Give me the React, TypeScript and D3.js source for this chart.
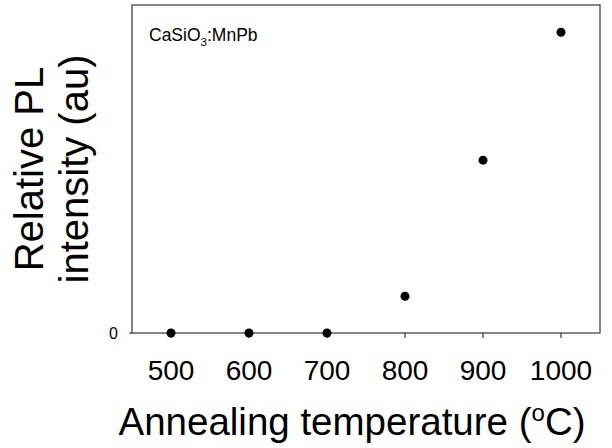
import React from 'react';
import { scaleLinear } from 'd3';

// annealing temperature (°C) and relative PL intensity (au, 0 = bottom, 1 = top of frame)
const temps = [500, 600, 700, 800, 900, 1000];
const intensity = [0, 0, 0, 0.112, 0.527, 0.917];
const xTicks = [500, 600, 700, 800, 900, 1000];
const yTicks = [0];

const W = 612;
const H = 448;
const margin = { left: 132, right: 12, top: 5, bottom: 115 };

export default function App() {
  const x = scaleLinear().domain([450, 1050]).range([margin.left, W - margin.right]);
  const y = scaleLinear().domain([0, 1]).range([H - margin.bottom, margin.top]);
  const x0 = margin.left, x1 = W - margin.right;
  const y0 = H - margin.bottom, y1 = margin.top;
  const font = 'Arial, "Liberation Sans", sans-serif';
  const midY = (y0 + y1) / 2;

  return (
    <svg width={W} height={H} style={{ position: 'absolute', left: 0, top: 0 }} fontFamily={font}>
      <rect width={W} height={H} fill="#fff" />
      {/* frame */}
      <rect x={x0} y={y1} width={x1 - x0} height={y0 - y1} fill="none" stroke="#444" strokeWidth={1.3} />

      {/* x axis ticks */}
      {xTicks.map(t => (
        <g key={t}>
          <line x1={x(t)} x2={x(t)} y1={y0} y2={y0 + 5} stroke="#444" strokeWidth={1.3} />
          <text x={x(t)} y={380} textAnchor="middle" fontSize={28} fill="#000">{t}</text>
        </g>
      ))}

      {/* y axis ticks */}
      {yTicks.map(t => (
        <g key={t}>
          <line x1={x0 - 3} x2={x0} y1={y(t)} y2={y(t)} stroke="#444" strokeWidth={1.3} />
          <text x={118} y={y(t) + 6} textAnchor="end" fontSize={16} fill="#000">{t}</text>
        </g>
      ))}

      {/* points */}
      {temps.map((t, i) => (
        <circle key={t} cx={x(t)} cy={y(intensity[i])} r={4.5} fill="#000" />
      ))}

      {/* annotation */}
      <text x={149} y={41} fontSize={17.5} fill="#000">
        CaSiO<tspan dy={5} fontSize={11.5}>3</tspan><tspan dy={-5}>:MnPb</tspan>
      </text>

      {/* axis titles */}
      <text x={352} y={435} textAnchor="middle" fontSize={38.5} fill="#000">
        Annealing temperature (<tspan dy={-14} fontSize={24}>o</tspan><tspan dy={14}>C)</tspan>
      </text>
      <text transform={`translate(43,${midY}) rotate(-90)`} textAnchor="middle" fontSize={40} fill="#000">
        Relative PL
      </text>
      <text transform={`translate(88,${midY}) rotate(-90)`} textAnchor="middle" fontSize={40} fill="#000">
        intensity (au)
      </text>
    </svg>
  );
}
